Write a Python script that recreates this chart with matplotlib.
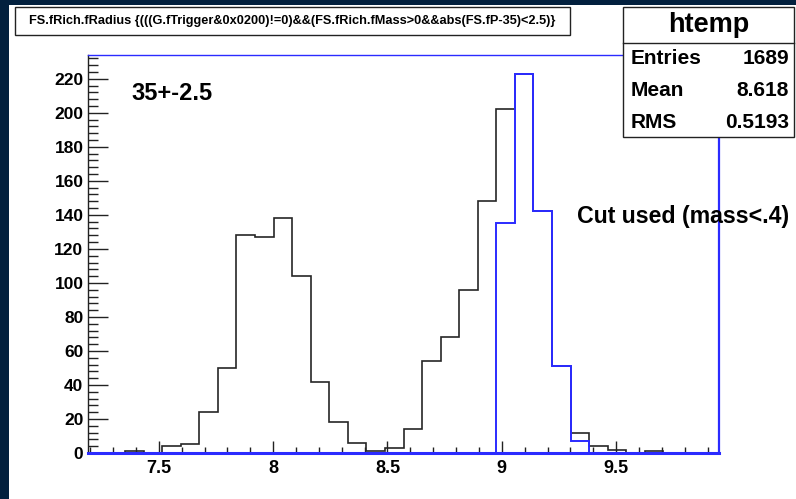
import numpy as np
import matplotlib
matplotlib.use("Agg")
import matplotlib.pyplot as plt
from matplotlib.patches import Rectangle
from matplotlib.ticker import MultipleLocator, FormatStrFormatter

plt.rcParams['font.family'] = ['Liberation Sans', 'DejaVu Sans']
plt.rcParams['font.weight'] = 'bold'

# htemp binning
x_lo, x_hi, n_bins = 7.19, 9.95, 34

# FS.fRich.fRadius, all tracks in the 35+-2.5 window
counts_all = [0, 0, 1, 0, 4, 5, 24, 50, 128, 127, 138, 104, 42, 18, 6, 1, 3,
              14, 54, 68, 96, 148, 202, 223, 142, 51, 12, 4, 2, 0, 1, 0, 0, 0]
# same, with the mass<.4 cut
counts_cut = [0, 0, 0, 0, 0, 0, 0, 0, 0, 0, 0, 0, 0, 0, 0, 0, 0,
              0, 0, 0, 0, 0, 135, 223, 142, 51, 7, 0, 0, 0, 0, 0, 0, 0]

title = "FS.fRich.fRadius {(((G.fTrigger&0x0200)!=0)&&(FS.fRich.fMass>0&&abs(FS.fP-35)<2.5)}"
stat_names = ["Entries", "Mean", "RMS"]
stat_values = ["1689", "8.618", "0.5193"]

W, H = 796, 499
fig = plt.figure(figsize=(W / 100, H / 100), dpi=100)
fig.patch.set_facecolor("white")


def fx(px):
    return px / W


def fy(py):
    return 1 - py / H


def box(x0, y0, x1, y1, **kw):
    """rectangle given in pixel coords from the top-left corner"""
    fig.add_artist(Rectangle((fx(x0), fy(y1)), fx(x1) - fx(x0), fy(y0) - fy(y1),
                             transform=fig.transFigure, **kw))


# dark slide border
navy = "#02203e"
box(0, 0, 9, H, facecolor=navy, edgecolor="none", zorder=0)
box(0, 0, W, 5, facecolor=navy, edgecolor="none", zorder=0)

ax = fig.add_axes([fx(88), fy(453), fx(719) - fx(88), fy(55) - fy(453)])
edges = np.linspace(x_lo, x_hi, n_bins + 1)
ax.stairs(counts_all, edges, color="#262626", lw=1.2, zorder=2)
ax.stairs(counts_cut, edges, color="#2b2bff", lw=1.4, zorder=3)

ax.set_xlim(x_lo, x_hi)
ax.set_ylim(0, 234)

blue = "#2b2bff"
ax.spines["left"].set_color("#222222")
ax.spines["left"].set_linewidth(1.0)
ax.spines["bottom"].set_color(blue)
ax.spines["bottom"].set_linewidth(2.2)
ax.spines["top"].set_color(blue)
ax.spines["top"].set_linewidth(1.0)
ax.spines["right"].set_color(blue)
ax.spines["right"].set_linewidth(1.6)

ax.xaxis.set_major_locator(MultipleLocator(0.5))
ax.xaxis.set_minor_locator(MultipleLocator(0.1))
ax.xaxis.set_major_formatter(FormatStrFormatter("%g"))
ax.yaxis.set_major_locator(MultipleLocator(20))
ax.yaxis.set_minor_locator(MultipleLocator(4))
ax.tick_params(axis="x", which="major", direction="in", length=8.4, width=1,
               color="#222222", labelsize=13, pad=5)
ax.tick_params(axis="x", which="minor", direction="in", length=4.3, width=1,
               color="#222222")
ax.tick_params(axis="y", which="major", direction="in", length=14.4, width=1,
               color="#222222", labelsize=12.5, pad=3.3)
ax.tick_params(axis="y", which="minor", direction="in", length=7.2, width=1,
               color="#222222")
for lab in ax.get_xticklabels() + ax.get_yticklabels():
    lab.set_fontweight("bold")

fig.text(fx(131), fy(93), "35+-2.5", fontsize=17,
         fontweight="bold", ha="left", va="center", zorder=5)
fig.text(fx(577), fy(217), "Cut used (mass<.4)", fontsize=16.7,
         fontweight="bold", ha="left", va="center", zorder=5)

# title box
box(15, 7.3, 570, 35, facecolor="white", edgecolor="#222222", lw=1, zorder=4)
fig.text(fx(292.5), fy(21), title, fontsize=9.2, fontweight="bold",
         ha="center", va="center", zorder=5)

# stats box
box(623.3, 7.3, 794, 137.3, facecolor="white", edgecolor="#222222", lw=1, zorder=4)
fig.add_artist(plt.Line2D([fx(623.3), fx(794)], [fy(42.7), fy(42.7)],
                          transform=fig.transFigure, color="#222222", lw=1, zorder=5))
fig.text(fx(708.7), fy(24.5), "htemp", fontsize=19.5, fontweight="bold",
         ha="center", va="center", zorder=5)
for name, val, ypx in zip(stat_names, stat_values, [58, 91, 123]):
    fig.text(fx(630.7), fy(ypx), name, fontsize=15, fontweight="bold",
             ha="left", va="center", zorder=5)
    fig.text(fx(789), fy(ypx), val, fontsize=15, fontweight="bold",
             ha="right", va="center", zorder=5)

fig.savefig("out.png", dpi=100)
